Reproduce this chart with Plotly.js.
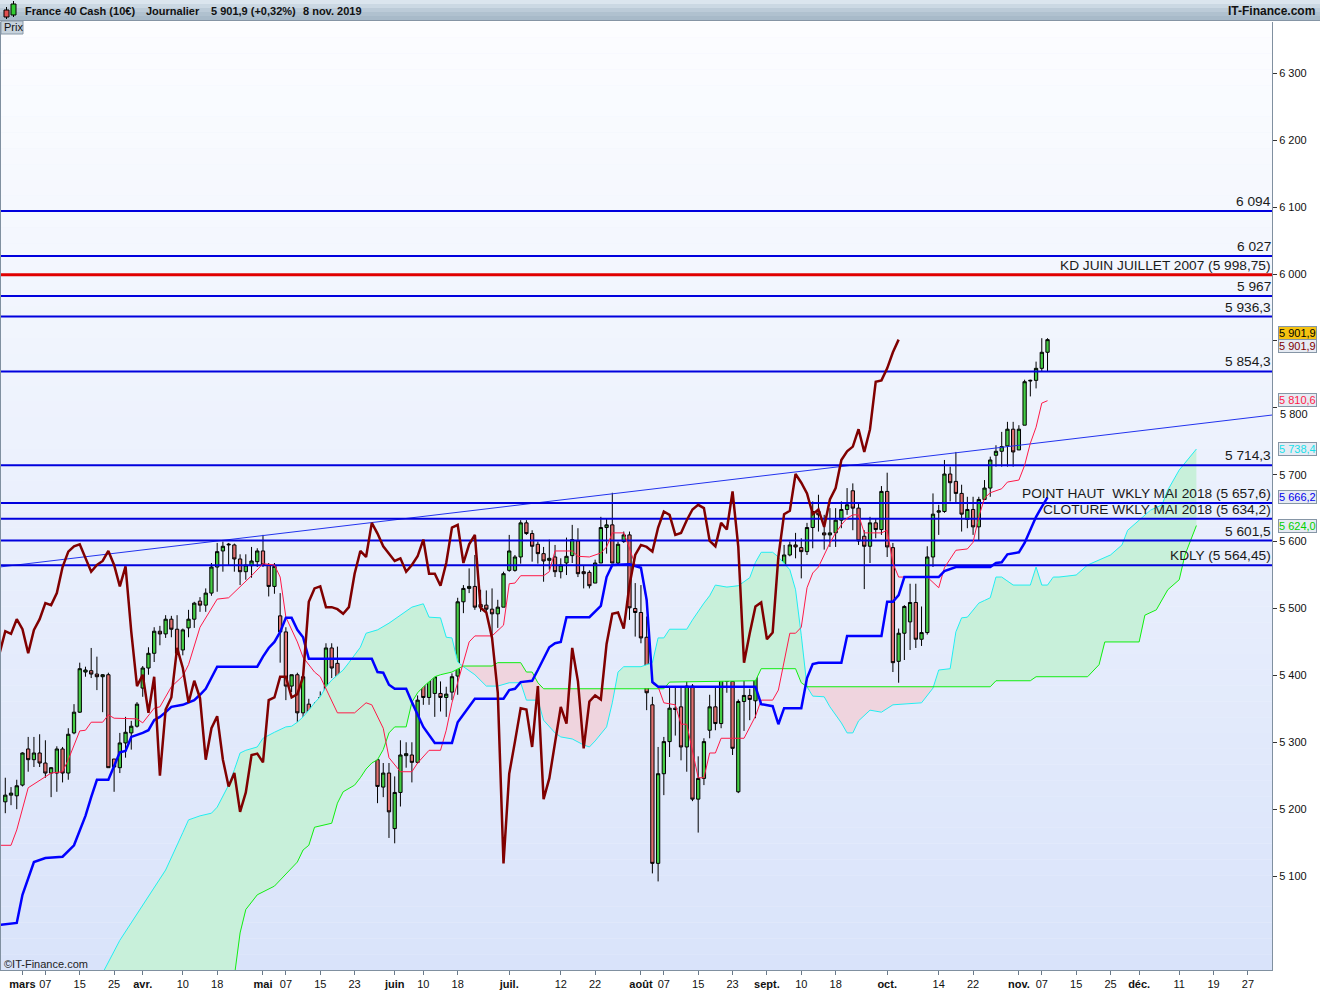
<!DOCTYPE html>
<html><head><meta charset="utf-8">
<script src="https://cdn.plot.ly/plotly-3.0.1.min.js"></script>
<style>html,body{margin:0;padding:0;background:#fff;}#chart{width:1320px;height:990px;}</style>
</head><body><div id="chart"></div>
<script>
// ---------------- DATA ----------------
const openP = [5211,5221,5220,5236,5290,5274,5284,5269,5254,5254,
5290,5254,5314,5345,5405,5407,5402,5398,5401,5275,
5262,5299,5314,5324,5381,5411,5433,5466,5462,5484,
5469,5438,5471,5484,5511,5505,5523,5562,5586,5595,
5595,5574,5555,5564,5570,5586,5565,5533,5489,5465,
5384,5401,5344,5357,5250,5349,5367,5441,5418,5359,
5390,5366,5274,5321,5341,5274,5233,5254,5171,5225,
5280,5281,5270,5396,5367,5373,5373,5367,5375,5399,
5510,5530,5533,5506,5505,5499,5492,5502,5557,5557,
5577,5628,5612,5596,5582,5572,5577,5555,5568,5579,
5601,5555,5554,5538,5568,5621,5625,5568,5600,5610,
5500,5494,5457,5356,5119,5253,5301,5351,5353,5293,
5384,5215,5246,5318,5353,5328,5441,5391,5226,5361,
5370,5362,5447,5453,5494,5470,5535,5580,5595,5591,
5585,5621,5645,5613,5610,5613,5632,5648,5676,5650,
5608,5593,5628,5618,5675,5591,5421,5463,5480,5509,
5454,5464,5577,5644,5645,5701,5690,5672,5633,5648,
5622,5663,5680,5729,5735,5743,5768,5737,5774,5840,
5841,5859,5883];
const highP = [5247,5233,5244,5285,5308,5308,5312,5303,5263,5294,
5293,5321,5357,5419,5413,5441,5428,5402,5404,5275,
5314,5338,5332,5360,5414,5442,5472,5474,5490,5489,
5490,5470,5498,5510,5517,5530,5568,5598,5600,5598,
5597,5581,5581,5592,5590,5610,5568,5568,5523,5472,
5401,5404,5398,5365,5360,5376,5448,5448,5443,5404,
5404,5368,5339,5361,5356,5274,5269,5269,5249,5303,
5300,5300,5370,5403,5429,5398,5391,5383,5403,5516,
5535,5560,5580,5528,5527,5530,5513,5555,5610,5580,
5632,5632,5617,5600,5592,5603,5595,5575,5606,5625,
5620,5565,5557,5573,5637,5635,5673,5600,5615,5615,
5538,5535,5488,5368,5293,5308,5384,5383,5383,5402,
5387,5279,5306,5371,5383,5447,5445,5423,5364,5395,
5380,5456,5500,5498,5512,5550,5595,5600,5613,5605,
5628,5660,5670,5640,5650,5650,5660,5680,5687,5658,
5617,5637,5635,5683,5703,5598,5470,5505,5537,5537,
5503,5593,5672,5655,5722,5712,5734,5685,5667,5667,
5667,5692,5727,5744,5764,5779,5779,5774,5842,5842,
5869,5904,5904];
const lowP = [5194,5206,5200,5234,5256,5263,5263,5247,5218,5226,
5240,5244,5312,5344,5398,5396,5378,5345,5262,5226,
5254,5277,5289,5322,5368,5401,5420,5445,5456,5457,
5433,5430,5457,5471,5495,5495,5519,5525,5555,5565,
5555,5535,5543,5546,5562,5562,5518,5522,5419,5363,
5375,5303,5320,5239,5239,5293,5333,5396,5329,5350,
5350,5264,5274,5301,5269,5209,5218,5157,5149,5204,
5262,5240,5268,5356,5356,5338,5346,5338,5363,5371,
5493,5523,5498,5495,5494,5460,5471,5502,5555,5555,
5567,5610,5570,5567,5540,5558,5547,5545,5550,5568,
5547,5530,5530,5538,5568,5582,5568,5565,5598,5483,
5458,5448,5348,5104,5092,5221,5278,5310,5273,5256,
5212,5165,5236,5306,5318,5321,5374,5281,5224,5317,
5333,5336,5441,5444,5443,5460,5533,5578,5575,5545,
5580,5590,5615,5588,5592,5592,5620,5640,5617,5595,
5529,5568,5605,5610,5577,5405,5389,5423,5438,5441,
5444,5461,5562,5610,5643,5660,5657,5615,5620,5610,
5601,5662,5667,5712,5712,5712,5712,5737,5774,5817,
5829,5854,5855];
const closeP = [5221,5224,5235,5284,5274,5284,5269,5254,5262,5290,
5254,5312,5345,5410,5408,5402,5398,5401,5262,5263,
5299,5315,5324,5357,5411,5433,5466,5462,5484,5469,
5433,5468,5484,5508,5505,5523,5562,5585,5593,5596,
5574,5555,5565,5571,5586,5565,5533,5563,5465,5384,
5401,5344,5398,5250,5349,5367,5441,5411,5359,5392,
5366,5274,5321,5339,5274,5234,5254,5196,5225,5281,
5283,5270,5363,5367,5398,5398,5367,5372,5398,5510,
5530,5533,5502,5502,5499,5492,5502,5552,5586,5577,
5628,5612,5593,5582,5571,5575,5555,5565,5578,5603,
5552,5552,5534,5568,5621,5625,5568,5596,5610,5501,
5494,5456,5374,5119,5253,5301,5351,5349,5293,5384,
5215,5246,5301,5353,5328,5441,5391,5291,5361,5370,
5364,5447,5492,5494,5470,5535,5580,5595,5592,5585,
5621,5645,5640,5610,5613,5632,5648,5655,5650,5601,
5593,5628,5618,5675,5592,5419,5463,5503,5509,5454,
5464,5577,5641,5646,5701,5688,5672,5641,5648,5622,
5663,5680,5722,5735,5742,5768,5734,5768,5839,5841,
5859,5883,5901.9];

// Ichimoku lines (trading-day index, value)
const tenkanIdx = [-1,1,2,4,8,10,11,13,14,15,17,18,19,23,24,26,27,28,29,31,32,34,37,39,41,43,45,47,48,49,51,52,54,55,58,61,63,64,66,67,69,71,72,74,76,77,78,81,82,85,87,88,89,90,94,95,96,99,100,102,104,105,106,108,109,110,111,112,113,114,115,117,118,119,121,122,123,124,125,129,131,132,134,135,137,138,139,140,141,142,144,145,146,147,148,149,150,153,154,155,156,157,161,163,164,166,168,169,170,171,172,174,175,177,178,179,180,181,182];
const tenkanVal = [5146,5146,5169,5232,5254,5256,5274,5317,5318,5330,5330,5341,5336,5335,5329,5351,5353,5368,5383,5399,5416,5472,5514,5516,5532,5549,5567,5565,5547,5487,5450,5427,5405,5398,5344,5344,5359,5356,5321,5277,5256,5256,5269,5288,5288,5318,5359,5450,5459,5459,5475,5537,5538,5549,5549,5555,5586,5586,5578,5577,5583,5592,5613,5613,5590,5565,5560,5510,5388,5383,5359,5356,5327,5327,5247,5247,5284,5284,5306,5306,5339,5363,5363,5378,5463,5463,5472,5531,5553,5562,5598,5613,5625,5635,5640,5640,5613,5613,5617,5568,5547,5547,5547,5531,5561,5587,5589,5599,5637,5665,5673,5679,5689,5692,5714,5747,5771,5807,5810.6];
const kijunIdx = [-1,2,3,5,7,10,12,13,14,15,16,18,19,20,21,22,24,25,26,27,28,29,31,32,33,34,35,37,44,45,46,47,48,49,50,51,52,53,64,65,66,67,68,70,71,73,75,78,79,82,87,88,89,90,92,93,95,96,97,98,102,104,105,106,109,111,112,113,114,131,132,134,135,136,139,140,141,142,146,147,153,154,155,156,157,163,164,166,172,173,174,175,177,178,179,180,181,182];
const kijunVal = [5027,5030,5072,5121,5127,5129,5146,5169,5190,5218,5244,5244,5265,5285,5287,5308,5314,5318,5333,5338,5345,5353,5356,5359,5363,5371,5380,5413,5413,5428,5441,5450,5465,5486,5486,5468,5457,5425,5425,5405,5404,5386,5380,5380,5360,5323,5299,5299,5330,5365,5365,5378,5380,5390,5392,5408,5442,5448,5450,5487,5487,5504,5547,5565,5566,5561,5513,5390,5383,5383,5357,5354,5327,5351,5351,5396,5417,5419,5419,5459,5459,5510,5510,5520,5547,5547,5556,5562,5562,5568,5569,5581,5584,5598,5617,5637,5652,5666.2];
const senkouAIdx = [14,17,20,24,28,31,32,34,36,37,39,40,41,42,44,45,46,47,49,50,51,52,53,54,55,56,57,59,60,62,63,65,67,68,70,71,73,74,76,77,78,79,80,82,84,86,88,90,91,93,94,96,97,99,101,102,103,105,106,107,108,111,113,114,115,116,119,120,122,123,124,126,128,130,131,132,134,135,137,138,139,140,141,143,144,146,147,148,149,151,153,155,160,162,163,165,166,167,168,170,171,172,173,174,176,179,180,181,182,183,184,187,189,191,193,195,196,198,200,202,203,205,207,208];
const senkouAVal = [4900,4955,5004,5057,5109,5165,5184,5190,5194,5203,5236,5259,5284,5288,5293,5306,5311,5315,5323,5324,5330,5338,5348,5359,5368,5383,5393,5408,5419,5442,5463,5468,5478,5484,5495,5502,5507,5487,5486,5457,5456,5420,5413,5401,5384,5384,5389,5389,5363,5363,5333,5314,5308,5305,5296,5293,5302,5323,5359,5405,5413,5413,5419,5456,5456,5469,5469,5483,5508,5519,5535,5532,5534,5546,5569,5584,5584,5577,5558,5528,5460,5383,5369,5368,5353,5329,5314,5314,5332,5348,5345,5356,5359,5381,5408,5410,5465,5486,5487,5508,5512,5516,5547,5547,5535,5535,5562,5535,5535,5547,5547,5550,5565,5572,5580,5595,5617,5632,5647,5655,5677,5707,5729,5738.4];
const senkouBIdx = [10,40,41,42,44,47,51,52,53,54,57,58,59,61,62,63,64,65,66,67,68,70,71,72,73,75,76,78,80,85,86,90,91,92,93,94,115,116,131,132,138,139,140,162,172,173,179,180,189,191,192,198,199,201,203,205,206,207,208];
const senkouBVal = [4700,4950,5015,5050,5072,5085,5121,5139,5146,5173,5179,5209,5226,5236,5247,5260,5269,5274,5289,5314,5323,5323,5360,5374,5383,5398,5401,5405,5414,5414,5419,5419,5405,5405,5389,5380,5380,5390,5392,5410,5410,5389,5383,5383,5383,5392,5392,5398,5398,5416,5450,5450,5490,5498,5528,5543,5580,5602,5624];
const chikouShift = 26;

// Horizontal levels
const levelValues = [6094, 6027, 5998.75, 5967, 5936.3, 5854.3, 5714.3, 5657.6, 5634.2, 5601.5, 5564.45];
const levelLabels = ['6 094','6 027','KD JUIN JUILLET 2007 (5 998,75)','5 967','5 936,3','5 854,3','5 714,3','POINT HAUT\u00a0 WKLY MAI 2018 (5 657,6)','CLOTURE WKLY MAI 2018 (5 634,2)','5 601,5','KDLY (5 564,45)'];
// Trend line endpoints (index, value)
const trendIdx = [-1, 222];
const trendVal = [5562, 5790];

// Axis ticks
const xTickIdx = [3,7,13,19,24,31,37,45,49,55,61,68,73,79,88,97,103,111,115,121,127,133,139,145,154,163,169,177,181,187,193,198,205,211,217];
const xTickLabels = ['mars','07','15','25','avr.','10','18','mai','07','15','23','juin','10','18','juil.','12','22','août','07','15','23','sept.','10','18','oct.','14','22','nov.','07','15','25','déc.','11','19','27'];
const yTickVals = [5100,5200,5300,5400,5500,5600,5700,5800,5900,6000,6100,6200,6300];
const yTickLabels = ['5 100','5 200','5 300','5 400','5 500','5 600','5 700','5 800','5 900','6 000','6 100','6 200','6 300'];

// Last values (right-axis tags)
const lastLabels = ['5 901,9','5 901,9','5 810,6','5 738,4','5 666,2','5 624,0'];
const lastValues = [5901.9, 5901.9, 5810.6, 5738.4, 5666.2, 5624.0];

const titleParts = ['France 40 Cash (10€)','Journalier','5 901,9 (+0,32%)','8 nov. 2019'];

// ---------------- BUILD ----------------
const FONT = 'Liberation Sans, Arial, sans-serif';
const PX = {l:1, r:1272, t:22, b:970};
const px2x = p => (p - PX.l) / (PX.r - PX.l);
const py2y = p => 1 - (p - PX.t) / (PX.b - PX.t);

const candleIdx = closeP.map((_, i) => i);
const chikouX = [], chikouY = [];
for (let i = chikouShift - 1; i < closeP.length; i++) { chikouX.push(i - chikouShift); chikouY.push(closeP[i]); }

function interp(xs, ys, x) {
  if (x <= xs[0]) return ys[0];
  for (let k = 1; k < xs.length; k++) {
    if (x <= xs[k]) { const t = (x - xs[k-1]) / (xs[k] - xs[k-1]); return ys[k-1] + t * (ys[k] - ys[k-1]); }
  }
  return ys[ys.length - 1];
}
const gx = [], ga = [], gb = [], gmax = [];
for (let x = senkouAIdx[0]; x <= senkouAIdx[senkouAIdx.length-1] + 1e-9; x += 0.1) {
  const a = interp(senkouAIdx, senkouAVal, x), b = interp(senkouBIdx, senkouBVal, x);
  gx.push(x); ga.push(a); gb.push(b); gmax.push(Math.max(a, b));
}

const traces = [];
const noLine = {width: 0, color: 'rgba(0,0,0,0)'};
traces.push({x: gx, y: gb, mode: 'lines', line: noLine, hoverinfo: 'skip', showlegend: false});
traces.push({x: gx, y: gmax, mode: 'lines', line: noLine, fill: 'tonexty', fillcolor: '#c8f0da', hoverinfo: 'skip', showlegend: false});
traces.push({x: gx, y: ga, mode: 'lines', line: noLine, hoverinfo: 'skip', showlegend: false});
traces.push({x: gx, y: gmax, mode: 'lines', line: noLine, fill: 'tonexty', fillcolor: '#efd4de', hoverinfo: 'skip', showlegend: false});
traces.push({x: senkouAIdx, y: senkouAVal, mode: 'lines', line: {color: '#22eef0', width: 1}, hoverinfo: 'skip', showlegend: false});
traces.push({x: senkouBIdx, y: senkouBVal, mode: 'lines', line: {color: '#11ee11', width: 1}, hoverinfo: 'skip', showlegend: false});
traces.push({x: trendIdx, y: trendVal, mode: 'lines', line: {color: '#2233ee', width: 1}, hoverinfo: 'skip', showlegend: false});

traces.push({
  type: 'candlestick', x: candleIdx, open: openP, high: highP, low: lowP, close: closeP,
  increasing: {line: {color: '#000', width: 1}, fillcolor: '#44cc44'},
  decreasing: {line: {color: '#000', width: 1}, fillcolor: '#e07070'},
  whiskerwidth: 0, hoverinfo: 'skip', showlegend: false
});

levelValues.forEach((v, k) => {
  const hi = levelLabels[k].indexOf('KD JUIN') === 0;
  traces.push({x: [-1, 222], y: [v, v], mode: 'lines', line: {color: hi ? '#e00000' : '#0000dd', width: hi ? 3 : 2}, hoverinfo: 'skip', showlegend: false});
});

traces.push({x: tenkanIdx, y: tenkanVal, mode: 'lines', line: {color: '#ff1a48', width: 1}, hoverinfo: 'skip', showlegend: false});
traces.push({x: kijunIdx, y: kijunVal, mode: 'lines', line: {color: '#0000ff', width: 2.5}, hoverinfo: 'skip', showlegend: false});
traces.push({x: chikouX, y: chikouY, mode: 'lines', line: {color: '#800000', width: 2.5}, hoverinfo: 'skip', showlegend: false});

// ---------------- DECOR ----------------
const shapes = [];
const N = 60;
for (let k = 0; k < N; k++) {
  const t = (k + 0.5) / N; // 0 bottom .. 1 top
  const r = Math.round(217 + (252 - 217) * t), g = Math.round(227 + (253 - 227) * t), b = Math.round(250 + (255 - 250) * t);
  shapes.push({type: 'rect', xref: 'paper', yref: 'paper', x0: 0, x1: 1, y0: k / N, y1: (k + 1) / N, fillcolor: `rgb(${r},${g},${b})`, line: {width: 0}, layer: 'below'});
}
// title bar
const barCols = ['#dbe5ee', '#cbd8e3', '#bccbd8', '#b0c1cf', '#a8bac9'];
barCols.forEach((c, k) => {
  shapes.push({type: 'rect', xref: 'paper', yref: 'paper', x0: px2x(0), x1: px2x(1320), y0: py2y(k * 4 + 4), y1: py2y(k * 4), fillcolor: c, line: {width: 0}, layer: 'above'});
});
shapes.push({type: 'line', xref: 'paper', yref: 'paper', x0: px2x(0), x1: px2x(1320), y0: py2y(20.5), y1: py2y(20.5), line: {color: '#8595a5', width: 1}});
// icon
shapes.push({type: 'line', xref: 'paper', yref: 'paper', x0: px2x(6.5), x1: px2x(6.5), y0: py2y(19), y1: py2y(7), line: {color: '#000', width: 1}});
shapes.push({type: 'rect', xref: 'paper', yref: 'paper', x0: px2x(4), x1: px2x(9), y0: py2y(17), y1: py2y(10), fillcolor: '#e05050', line: {color: '#000', width: 1}});
shapes.push({type: 'line', xref: 'paper', yref: 'paper', x0: px2x(13.5), x1: px2x(13.5), y0: py2y(17), y1: py2y(1), line: {color: '#000', width: 1}});
shapes.push({type: 'rect', xref: 'paper', yref: 'paper', x0: px2x(11), x1: px2x(16), y0: py2y(15), y1: py2y(4), fillcolor: '#33cc33', line: {color: '#000', width: 1}});
// Prix box
shapes.push({type: 'rect', xref: 'paper', yref: 'paper', x0: px2x(1), x1: px2x(23), y0: py2y(34), y1: py2y(21), fillcolor: '#c6d2dc', line: {color: '#8898a8', width: 1}});

const annotations = [];
levelLabels.forEach((t, k) => {
  annotations.push({xref: 'paper', yref: 'y', x: 1, y: levelValues[k], xanchor: 'right', yanchor: 'bottom', text: t, showarrow: false, font: {family: FONT, size: 13.7, color: '#1a1a1a'}, borderpad: 0, yshift: 1});
});

// tick labels that sit under the last-value tags: 5 900 is fully hidden, 5 800 peeks out just below its tag
const coveredTicks = [5900, 5800];
const peekTick = 5800;
annotations.push({xref: 'paper', yref: 'y', x: px2x(1279), y: peekTick, xanchor: 'left', yanchor: 'top', yshift: 1,
  text: yTickLabels[yTickVals.indexOf(peekTick)], showarrow: false, font: {family: FONT, size: 11, color: '#111'}, borderpad: 0});

const tagStyles = [
  {bg: '#f5c210', fc: '#000000', ys: 6.5},
  {bg: '#e6ebf3', fc: '#800000', ys: -6.5},
  {bg: '#e6ebf3', fc: '#ff1a48', ys: 1},
  {bg: '#e6ebf3', fc: '#18e0ea', ys: 0},
  {bg: '#e6ebf3', fc: '#0000ee', ys: 0},
  {bg: '#e6ebf3', fc: '#00d000', ys: 0}
];
lastLabels.forEach((t, k) => {
  const s = tagStyles[k];
  annotations.push({xref: 'paper', yref: 'y', x: px2x(1278), y: lastValues[k], xanchor: 'left', yanchor: 'middle', yshift: s.ys, text: t, showarrow: false,
    font: {family: FONT, size: 11, color: s.fc}, bgcolor: s.bg, bordercolor: '#8696a6', borderwidth: 1, borderpad: 0});
});
const titleX = [23, 144, 209, 301];
titleParts.forEach((t, k) => {
  annotations.push({xref: 'paper', yref: 'paper', x: px2x(titleX[k]), y: py2y(10.5), xanchor: 'left', yanchor: 'middle', text: '<b>' + t + '</b>', showarrow: false, font: {family: FONT, size: 11, color: '#111'}});
});
annotations.push({xref: 'paper', yref: 'paper', x: px2x(1317), y: py2y(10.5), xanchor: 'right', yanchor: 'middle', text: '<b>IT-Finance.com</b>', showarrow: false, font: {family: FONT, size: 12, color: '#111'}});
annotations.push({xref: 'paper', yref: 'paper', x: px2x(2.5), y: py2y(27.5), xanchor: 'left', yanchor: 'middle', text: 'Prix', showarrow: false, font: {family: FONT, size: 11, color: '#111'}, borderpad: 0});
annotations.push({xref: 'paper', yref: 'paper', x: px2x(3), y: py2y(964), xanchor: 'left', yanchor: 'middle', text: '©IT-Finance.com', showarrow: false, font: {family: FONT, size: 11, color: '#222'}, borderpad: 0});

const layout = {
  width: 1320, height: 990,
  margin: {l: 1, r: 48, t: 22, b: 20, pad: 0},
  paper_bgcolor: '#ffffff', plot_bgcolor: '#eef2fd',
  showlegend: false, hovermode: false, boxgap: 0.18,
  font: {family: FONT, size: 11, color: '#111'},
  xaxis: {
    range: [-0.75, 221.2], tickmode: 'array', tickvals: xTickIdx,
    ticktext: xTickLabels.map(t => /^\d+$/.test(t) ? t : '<b>' + t + '</b>'),
    tickfont: {family: FONT, size: 11, color: '#111'}, ticks: 'outside', ticklen: 4, tickcolor: '#6a7a8a',
    showgrid: false, zeroline: false, showline: true, linecolor: '#8090a0', linewidth: 1,
    rangeslider: {visible: false}, fixedrange: true
  },
  yaxis: {
    side: 'right', range: [4959.6, 6376.7], tickmode: 'array', tickvals: yTickVals,
    ticktext: yTickLabels.map((t, k) => coveredTicks.indexOf(yTickVals[k]) >= 0 ? '' : t),
    tickfont: {family: FONT, size: 11, color: '#111'}, ticks: 'outside', ticklen: 4, tickcolor: '#333',
    showgrid: false, zeroline: false, showline: true, mirror: true, linecolor: '#8090a0', linewidth: 1, fixedrange: true
  },
  shapes: shapes,
  annotations: annotations
};

Plotly.newPlot('chart', traces, layout, {staticPlot: true, displayModeBar: false});
</script>
</body></html>
